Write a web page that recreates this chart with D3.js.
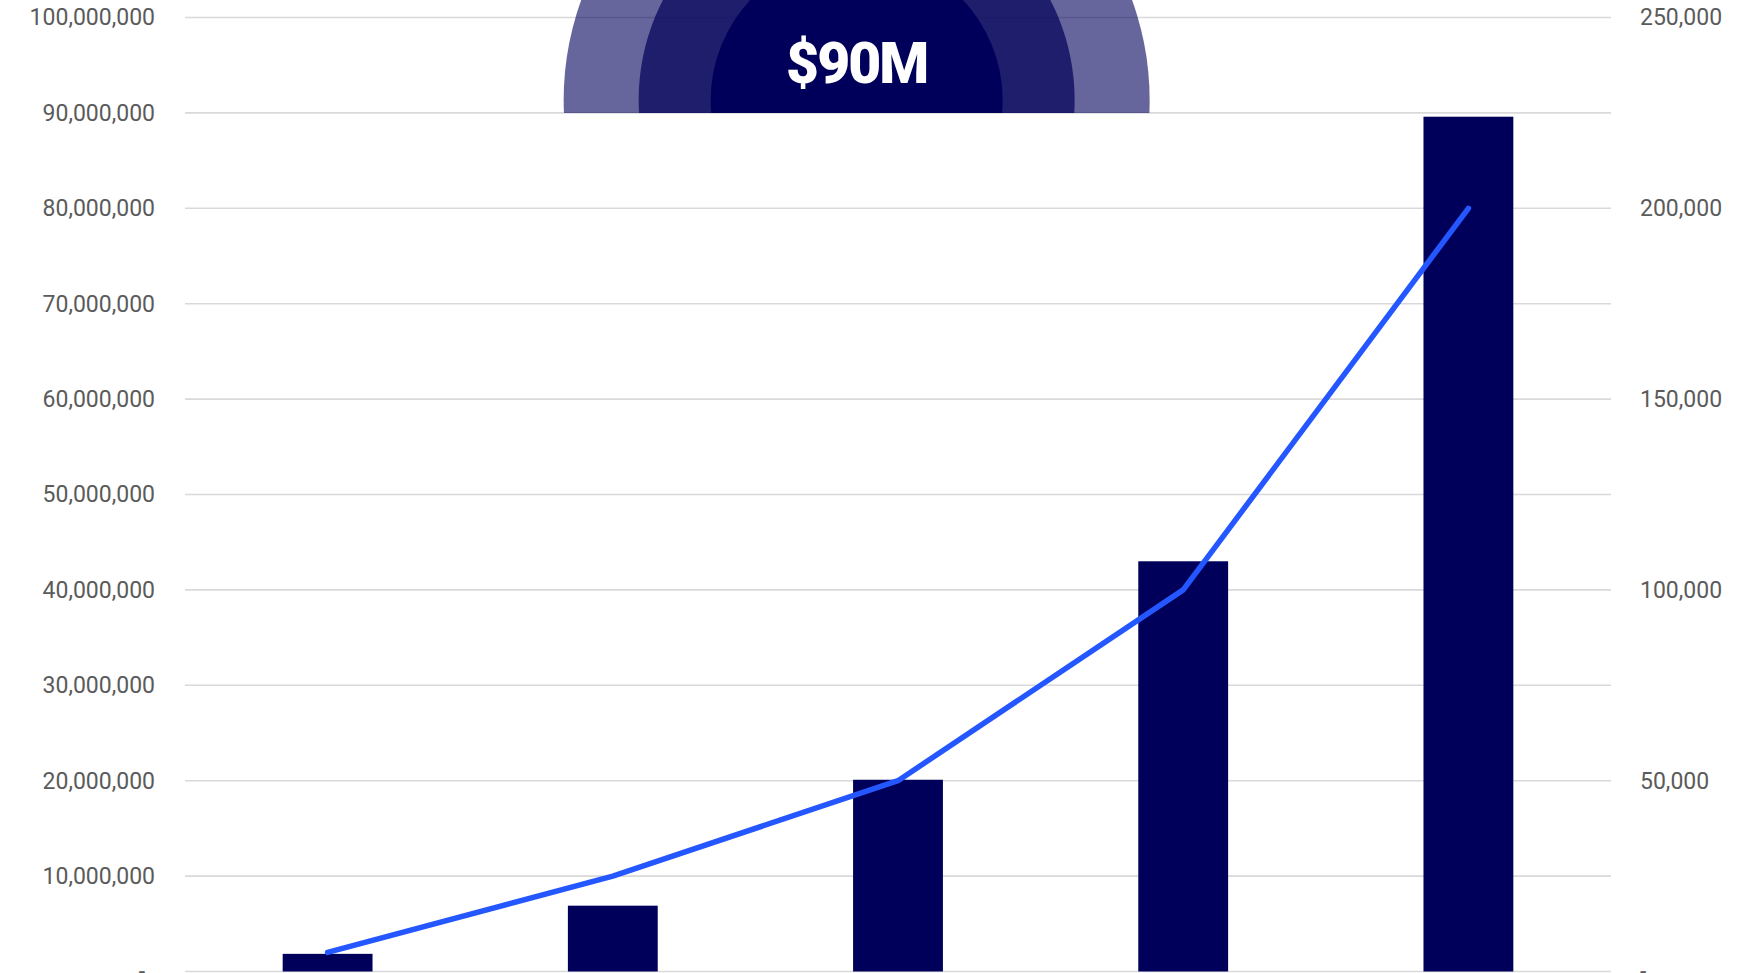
<!DOCTYPE html>
<html>
<head>
<meta charset="utf-8">
<script src="https://cdn.jsdelivr.net/npm/d3@7"></script>
<style>
  html, body { margin: 0; padding: 0; background: #ffffff; overflow: hidden; }
  svg { display: block; font-family: Roboto, "Noto Sans", sans-serif; }
</style>
</head>
<body>
<svg id="chart" width="1742" height="973"></svg>
<script>
// Revenue per period (bars, left axis) and customers (line, right axis)
const categories = ["P1", "P2", "P3", "P4", "P5"];
const revenue = [1850000, 6900000, 20100000, 43000000, 89600000];
const customers = [5000, 25000, 50000, 100000, 200000];

const leftTicks = [0, 10000000, 20000000, 30000000, 40000000, 50000000,
                   60000000, 70000000, 80000000, 90000000, 100000000];
const rightTicks = [0, 50000, 100000, 150000, 200000, 250000];

const svg = d3.select("#chart");
const plot = { left: 185, right: 1611, top: 17.5, bottom: 971.5 };

const x = d3.scaleBand()
  .domain(categories)
  .range([plot.left, plot.right])
  .paddingInner(0.685)
  .paddingOuter(0.3425);

const yL = d3.scaleLinear().domain([0, 100000000]).range([plot.bottom, plot.top]);
const yR = d3.scaleLinear().domain([0, 250000]).range([plot.bottom, plot.top]);

const fmt = d3.format(",");
const tickLabel = v => v === 0 ? "-" : fmt(v);

// horizontal gridlines
svg.append("g")
  .selectAll("line")
  .data(leftTicks)
  .join("line")
  .attr("x1", plot.left)
  .attr("x2", plot.right)
  .attr("y1", d => yL(d))
  .attr("y2", d => yL(d))
  .attr("stroke", "#d9d9d9")
  .attr("stroke-width", 1.6);

// left axis
const axisL = svg.append("g")
  .attr("transform", `translate(${plot.left - 30},0)`)
  .call(d3.axisLeft(yL).tickValues(leftTicks).tickFormat(tickLabel).tickSize(0).tickPadding(0));
axisL.select(".domain").remove();
axisL.selectAll("text")
  .attr("font-size", 23)
  .attr("font-family", "Roboto, sans-serif")
  .attr("fill", "#5b5b5b")
  .attr("dx", d => d === 0 ? -10 : 0);

// right axis
const axisR = svg.append("g")
  .attr("transform", `translate(${plot.right + 29},0)`)
  .call(d3.axisRight(yR).tickValues(rightTicks).tickFormat(tickLabel).tickSize(0).tickPadding(0));
axisR.select(".domain").remove();
axisR.selectAll("text")
  .attr("font-size", 23)
  .attr("font-family", "Roboto, sans-serif")
  .attr("fill", "#5b5b5b");

// headline badge: concentric half discs resting on the 90M gridline
const badgeCx = plot.left + (plot.right - plot.left) * 0.471;
const badgeCy = 100;
const clipY = yL(90000000);
svg.append("clipPath").attr("id", "badgeClip")
  .append("rect")
  .attr("x", 0).attr("y", 0)
  .attr("width", 1742).attr("height", clipY);

const badge = svg.append("g").attr("clip-path", "url(#badgeClip)");
const rings = [
  { r: 293, opacity: 0.6 },
  { r: 218, opacity: 0.7 },
  { r: 146, opacity: 1 }
];
badge.selectAll("circle")
  .data(rings)
  .join("circle")
  .attr("cx", badgeCx)
  .attr("cy", badgeCy)
  .attr("r", d => d.r)
  .attr("fill", "#00005a")
  .attr("fill-opacity", d => d.opacity);

badge.append("text")
  .attr("x", badgeCx)
  .attr("y", 83)
  .attr("text-anchor", "middle")
  .attr("font-family", "Roboto, sans-serif")
  .attr("font-weight", 900)
  .attr("font-size", 57)
  .attr("letter-spacing", -2)
  .attr("fill", "#ffffff")
  .text("$" + Math.round(revenue[revenue.length - 1] / 1e6) + "M");

// bars
svg.append("g")
  .selectAll("rect")
  .data(categories)
  .join("rect")
  .attr("x", d => x(d))
  .attr("width", x.bandwidth())
  .attr("y", (d, i) => yL(revenue[i]))
  .attr("height", (d, i) => yL(0) - yL(revenue[i]))
  .attr("fill", "#00005a");

// customers line
const line = d3.line()
  .x((d, i) => x(categories[i]) + x.bandwidth() / 2)
  .y(d => yR(d));

svg.append("path")
  .datum(customers)
  .attr("d", line)
  .attr("fill", "none")
  .attr("stroke", "#2457ff")
  .attr("stroke-width", 5.5)
  .attr("stroke-linecap", "round")
  .attr("stroke-linejoin", "round");
</script>
</body>
</html>
